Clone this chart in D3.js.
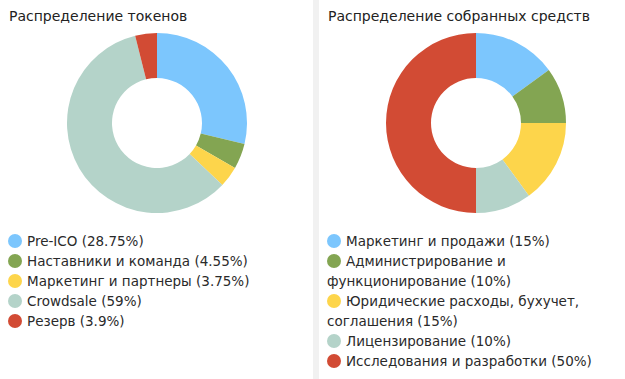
<!DOCTYPE html>
<html><head><meta charset="utf-8">
<script src="https://cdn.jsdelivr.net/npm/d3@7"></script>
<style>body{margin:0;background:#fff;}svg{display:block;font-family:"DejaVu Sans",sans-serif;}</style>
</head><body>
<svg id="c" width="625" height="379"></svg>
<script>
const titleLeft = "Распределение токенов";
const titleRight = "Распределение собранных средств";
const tokenCategories = ["Pre-ICO", "Наставники и команда", "Маркетинг и партнеры", "Crowdsale", "Резерв"];
const tokenValues = [28.75, 4.55, 3.75, 59, 3.9];
const fundCategories = ["Маркетинг и продажи", "Администрирование и\nфункционирование", "Юридические расходы, бухучет,\nсоглашения", "Лицензирование", "Исследования и разработки"];
const fundValues = [15, 10, 15, 10, 50];
const colors = ["#7cc6fd", "#83a552", "#fdd54b", "#b4d3c9", "#d24b34"];

const svg = d3.select("#c");
svg.append("rect").attr("x", 313).attr("y", 0).attr("width", 6).attr("height", 379).attr("fill", "#f1f1f1");

function panel(cfg) {
  const g = svg.append("g");
  g.append("text").attr("x", cfg.titleX).attr("y", 21).attr("font-size", 14).attr("fill", "#222").text(cfg.title);
  const pie = d3.pie().sort(null).value(d => d)(cfg.values);
  const arc = d3.arc().innerRadius(45).outerRadius(90);
  const color = d3.scaleOrdinal().domain(d3.range(cfg.values.length)).range(colors);
  g.append("g").attr("transform", `translate(${cfg.cx},123)`)
    .selectAll("path").data(pie).join("path")
    .attr("d", arc).attr("fill", (d, i) => color(i));
  let row = 0;
  cfg.cats.forEach((c, i) => {
    const lines = (c + " (" + cfg.values[i] + "%)").split("\n");
    const y = 241 + row * 20;
    g.append("circle").attr("cx", cfg.lx + 7).attr("cy", y).attr("r", 7).attr("fill", color(i));
    lines.forEach((ln, j) => {
      g.append("text").attr("x", j === 0 ? cfg.lx + 19 : cfg.lx)
        .attr("y", 241 + (row + j) * 20 + 5).attr("font-size", 13.5).attr("fill", "#2a2a2a").text(ln);
    });
    row += lines.length;
  });
}
panel({title: titleLeft, titleX: 9, cx: 157, cats: tokenCategories, values: tokenValues, lx: 8});
panel({title: titleRight, titleX: 328, cx: 476, cats: fundCategories, values: fundValues, lx: 327});
</script>
</body></html>
